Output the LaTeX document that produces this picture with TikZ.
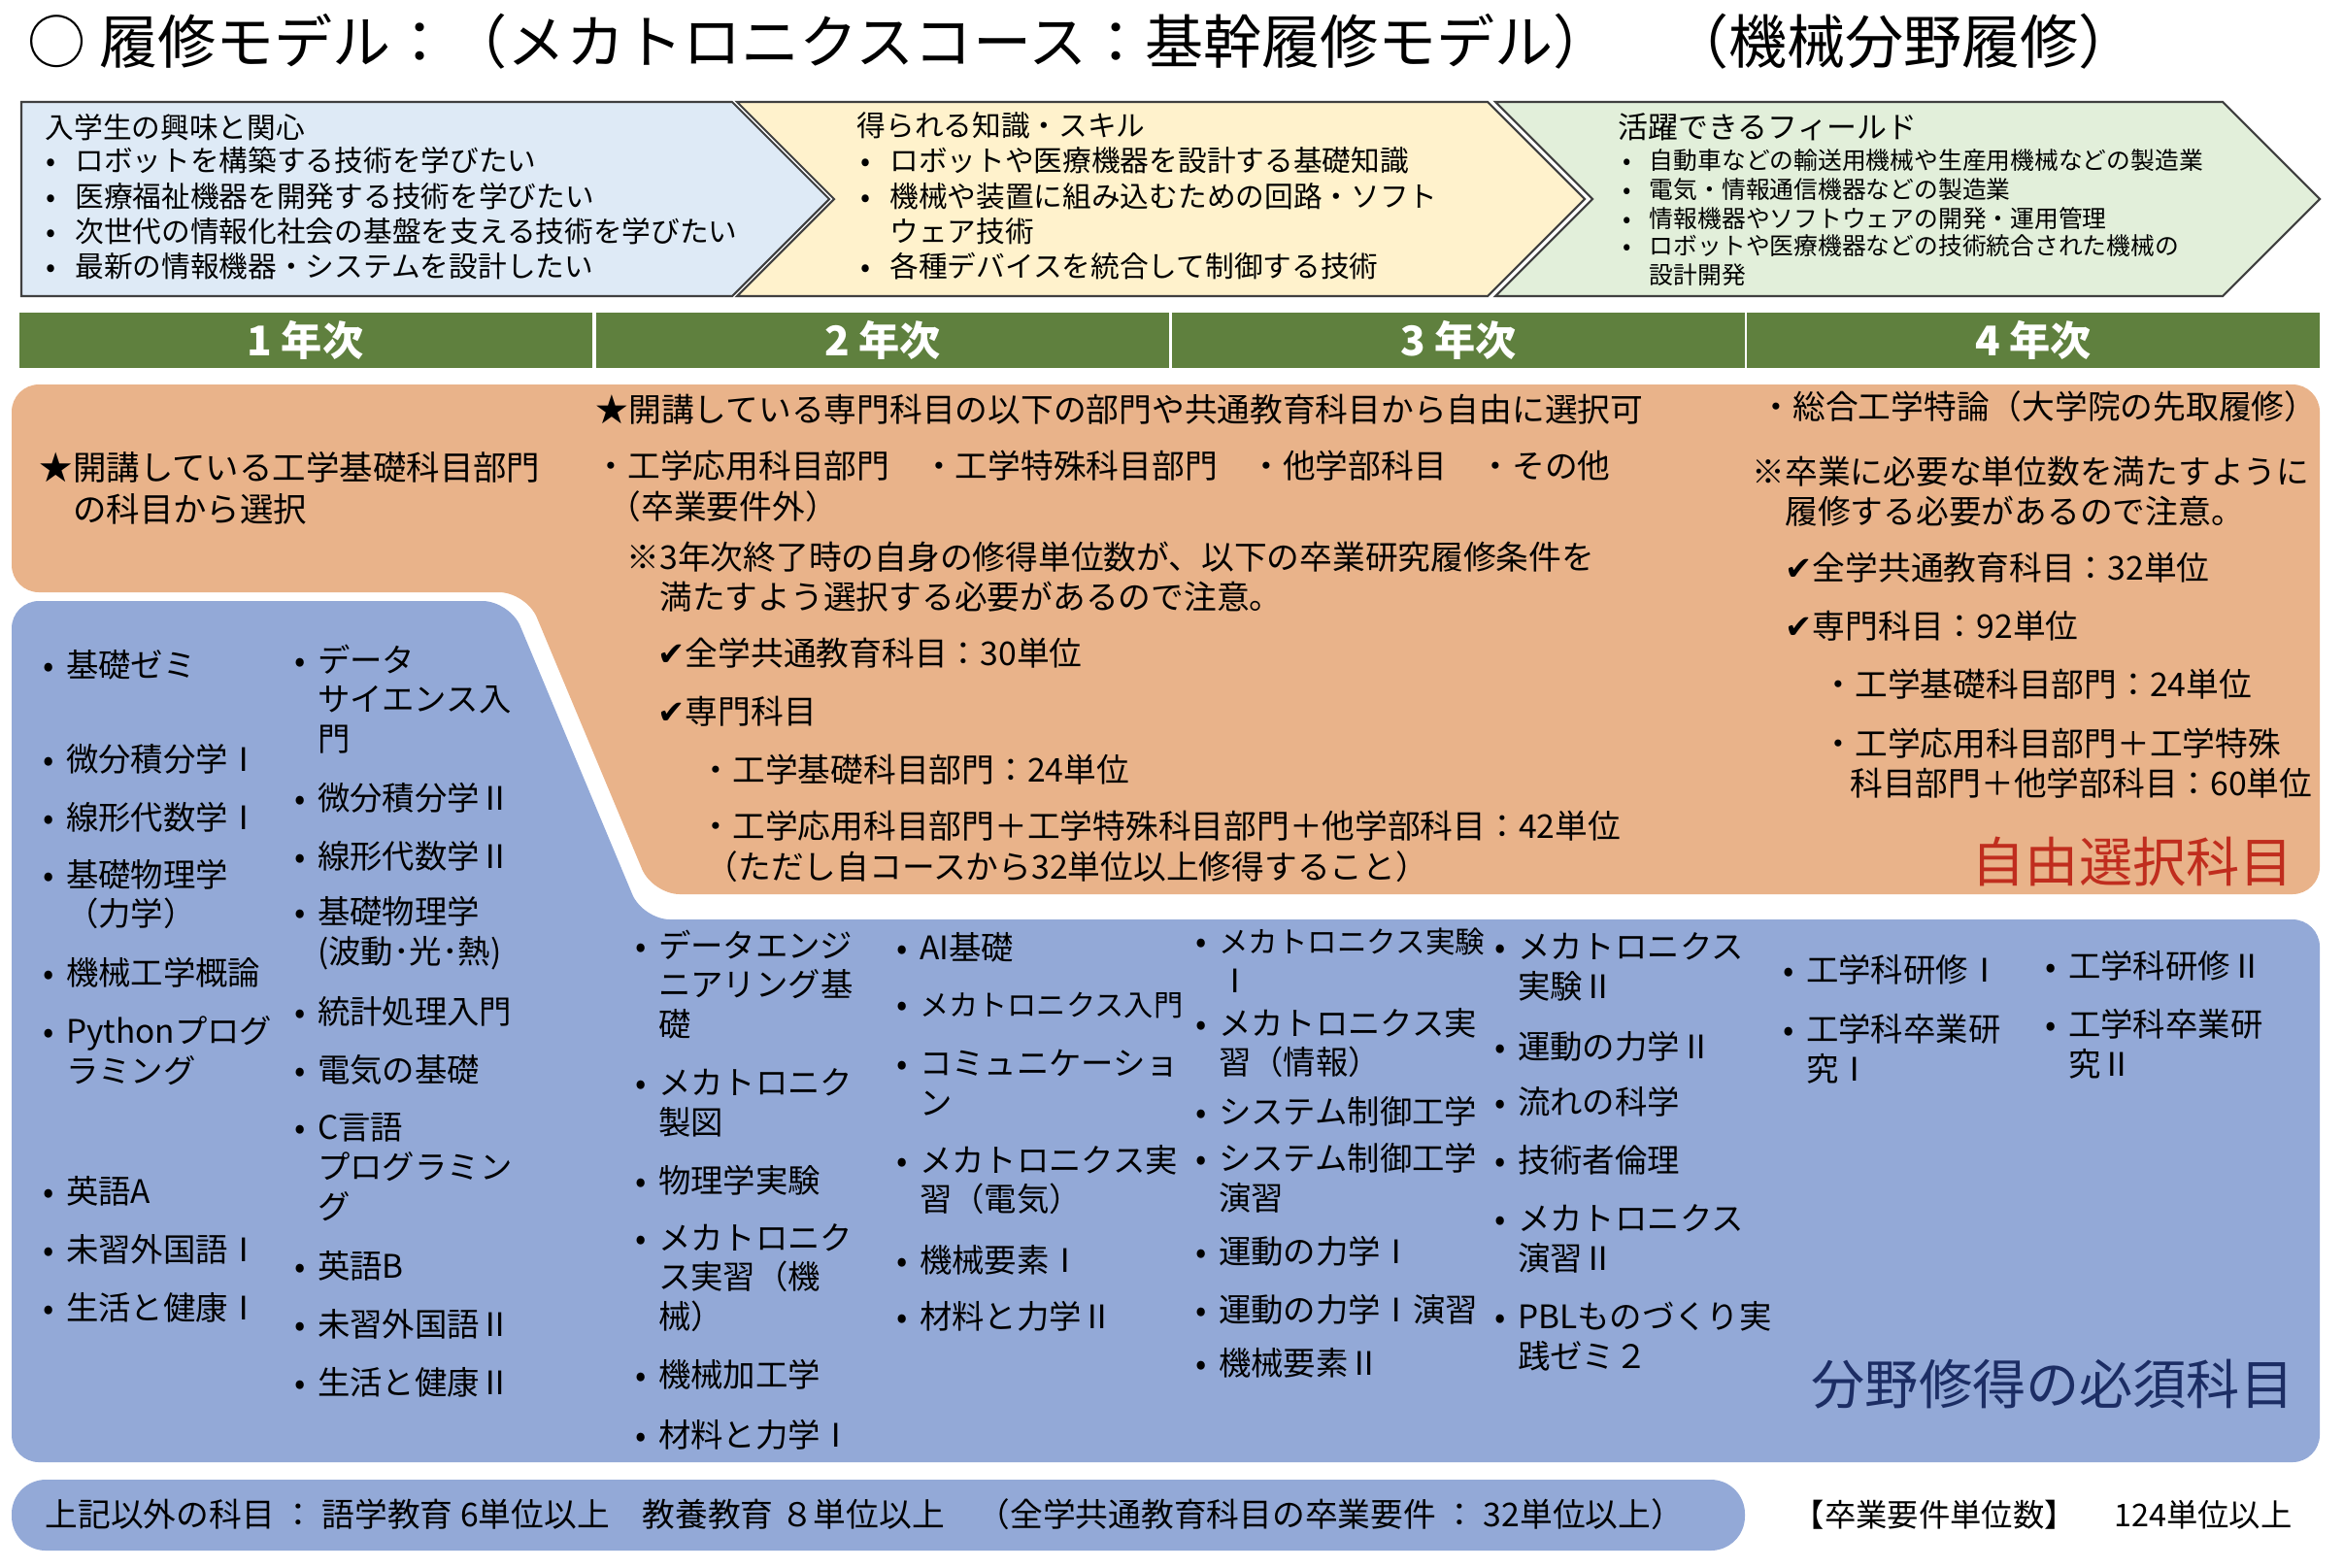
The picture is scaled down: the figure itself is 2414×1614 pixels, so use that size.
\documentclass[tikz,border=0pt]{standalone}
\usepackage{fontspec}
\setmainfont{Noto Sans CJK JP}
\newfontfamily\symfont{DejaVu Sans}

\definecolor{chevblue}{RGB}{222,234,246}
\definecolor{chevyellow}{RGB}{255,242,204}
\definecolor{chevgreen}{RGB}{226,239,218}
\definecolor{yeargreen}{RGB}{95,128,62}
\definecolor{freeorange}{RGB}{233,179,138}
\definecolor{reqblue}{RGB}{147,169,215}
\definecolor{freered}{RGB}{192,45,30}
\definecolor{reqnavy}{RGB}{28,45,100}

\newcommand\subjdot[1][0.7em]{\makebox[#1][l]{•}}
\newcommand\subjind[1][0.7em]{\hspace*{#1}}
\newcommand\chk{{\symfont ✔}}

\begin{document}
\begin{tikzpicture}[
  x=0.1mm, y=-0.1mm,
  chevron/.style={draw=black!75, line width=0.6pt},
  ttl/.style={anchor=west, inner sep=0, font=\fontsize{17.1}{20}\selectfont},
  chevtxt/.style={anchor=west, inner sep=0, align=left, font=\fontsize{8.45}{10.3}\selectfont},
  fieldtxt/.style={anchor=west, inner sep=0, align=left, font=\fontsize{7.05}{8.45}\selectfont},
  yearcell/.style={fill=yeargreen, text=white, inner sep=0, minimum width=59mm,
    minimum height=5.7mm, font=\fontsize{12}{14}\selectfont\bfseries},
  notetxt/.style={anchor=west, inner sep=0, align=left, font=\fontsize{9.6}{11.8}\selectfont},
  subj/.style={anchor=west, inner sep=0, align=left, font=\fontsize{9.5}{11.6}\selectfont},
  bigtag/.style={anchor=west, inner sep=0, font=\fontsize{15.7}{18}\selectfont},
]
\useasboundingbox (0,0) rectangle (2414,1614);

% --- title ---
\node[ttl] (title) at (28,43) {○ 履修モデル：（メカトロニクスコース：基幹履修モデル）　（機械分野履修）};

% --- chevrons ---
\draw[chevron, fill=chevblue] (22,105) -- (754,105) -- (854,205) -- (754,305) -- (22,305) -- cycle;
\draw[chevron, fill=chevyellow] (759,105) -- (1532,105) -- (1632,205) -- (1532,305) -- (759,305) -- (859,205) -- cycle;
\draw[chevron, fill=chevgreen] (1540,105) -- (2289,105) -- (2389,205) -- (2289,305) -- (1540,305) -- (1640,205) -- cycle;

\node[chevtxt] (inthead) at (46,131) {入学生の興味と関心};
\node[chevtxt] (int1) at (47,165) {\subjdot[1em]ロボットを構築する技術を学びたい};
\node[chevtxt] (int2) at (47,202) {\subjdot[1em]医療福祉機器を開発する技術を学びたい};
\node[chevtxt] (int3) at (47,238) {\subjdot[1em]次世代の情報化社会の基盤を支える技術を学びたい};
\node[chevtxt] (int4) at (47,274) {\subjdot[1em]最新の情報機器・システムを設計したい};

\node[chevtxt] (skillhead) at (882,129) {得られる知識・スキル};
\node[chevtxt] (skill1) at (886,165) {\subjdot[1em]ロボットや医療機器を設計する基礎知識};
\node[chevtxt] (skill2) at (886,220) {\subjdot[1em]機械や装置に組み込むための回路・ソフト\\\subjind[1em]ウェア技術};
\node[chevtxt] (skill3) at (886,274) {\subjdot[1em]各種デバイスを統合して制御する技術};

\node[chevtxt, font=\fontsize{8.8}{10.5}\selectfont] (fieldhead) at (1666,131) {活躍できるフィールド};
\node[fieldtxt] (field1) at (1671,165) {\subjdot[1.1em]自動車などの輸送用機械や生産用機械などの製造業};
\node[fieldtxt] (field2) at (1671,195) {\subjdot[1.1em]電気・情報通信機器などの製造業};
\node[fieldtxt] (field3) at (1671,225) {\subjdot[1.1em]情報機器やソフトウェアの開発・運用管理};
\node[fieldtxt] (field4) at (1671,268) {\subjdot[1.1em]ロボットや医療機器などの技術統合された機械の\\\subjind[1.1em]設計開発};

% --- year header ---
\node[yearcell] (yr1) at (314.5,350) {1 年次};
\node[yearcell] (yr2) at (909,350) {2 年次};
\node[yearcell] (yr3) at (1502,350) {3 年次};
\node[yearcell] (yr4) at (2094,350) {4 年次};

% --- free choice area (orange) ---
\fill[freeorange, rounded corners=8pt] (12,396) -- (2389,396) -- (2389,921) -- (672,921)
  -- (542,610) -- (12,610) -- cycle;

\node[notetxt, font=\fontsize{9.8}{12.2}\selectfont] (free1) at (40,503)
  {★開講している工学基礎科目部門\\\hspace*{1em}の科目から選択};
\node[notetxt] (free2) at (613,422) {★開講している専門科目の以下の部門や共通教育科目から自由に選択可};
\node[notetxt] (dept) at (612,480) {・工学応用科目部門　・工学特殊科目部門　・他学部科目　・その他};
\node[notetxt] (outside) at (626,522) {（卒業要件外）};
\node[notetxt] (cond3) at (645,594)
  {※3年次終了時の自身の修得単位数が、以下の卒業研究履修条件を\\\hspace*{1em}満たすよう選択する必要があるので注意。};
\node[notetxt] (chk30) at (677,673) {\chk 全学共通教育科目：30単位};
\node[notetxt] (chksen) at (677,733) {\chk 専門科目};
\node[notetxt] (kiso24) at (720,793) {・工学基礎科目部門：24単位};
\node[notetxt] (app42) at (720,851) {・工学応用科目部門＋工学特殊科目部門＋他学部科目：42単位};
\node[notetxt] (tadashi) at (726,893) {（ただし自コースから32単位以上修得すること）};

\node[notetxt] (sogo) at (1812,419) {・総合工学特論（大学院の先取履修）};
\node[notetxt] (cond4) at (1804,506)
  {※卒業に必要な単位数を満たすように\\\hspace*{1em}履修する必要があるので注意。};
\node[notetxt] (chk32) at (1838,585) {\chk 全学共通教育科目：32単位};
\node[notetxt] (chk92) at (1838,645) {\chk 専門科目：92単位};
\node[notetxt] (kiso24b) at (1876,705) {・工学基礎科目部門：24単位};
\node[notetxt] (app60) at (1876,786)
  {・工学応用科目部門＋工学特殊\\\hspace*{0.85em}科目部門＋他学部科目：60単位};

\node[bigtag, text=freered] (freetag) at (2030,888) {自由選択科目};

% --- required subjects (blue) ---
\fill[reqblue, rounded corners=8pt] (12,619) -- (525,619) -- (662,947) -- (2389,947)
  -- (2389,1506) -- (12,1506) -- cycle;

% 1st year
\node[subj] (s1a) at (44,685) {\subjdot 基礎ゼミ};
\node[subj] (s1b) at (44,782) {\subjdot 微分積分学Ⅰ};
\node[subj] (s1c) at (44,842) {\subjdot 線形代数学Ⅰ};
\node[subj] (s1d) at (44,921) {\subjdot 基礎物理学\\\subjind（力学）};
\node[subj] (s1e) at (44,1002) {\subjdot 機械工学概論};
\node[subj] (s1f) at (44,1082) {\subjdot Pythonプログ\\\subjind ラミング};
\node[subj] (s1g) at (44,1227) {\subjdot 英語A};
\node[subj] (s1h) at (44,1287) {\subjdot 未習外国語Ⅰ};
\node[subj] (s1i) at (44,1347) {\subjdot 生活と健康Ⅰ};

\node[subj] (s1j) at (303,720) {\subjdot データ\\\subjind サイエンス入\\\subjind 門};
\node[subj] (s1k) at (303,822) {\subjdot 微分積分学Ⅱ};
\node[subj] (s1l) at (303,882) {\subjdot 線形代数学Ⅱ};
\node[subj] (s1m) at (303,961) {\subjdot 基礎物理学\\\subjind(波動･光･熱)};
\node[subj] (s1n) at (303,1042) {\subjdot 統計処理入門};
\node[subj] (s1o) at (303,1102) {\subjdot 電気の基礎};
\node[subj] (s1p) at (303,1202) {\subjdot C言語\\\subjind プログラミン\\\subjind グ};
\node[subj] (s1q) at (303,1304) {\subjdot 英語B};
\node[subj] (s1r) at (303,1364) {\subjdot 未習外国語Ⅱ};
\node[subj] (s1s) at (303,1424) {\subjdot 生活と健康Ⅱ};

% 2nd year
\node[subj] (s2a) at (654,1014) {\subjdot データエンジ\\\subjind ニアリング基\\\subjind 礎};
\node[subj] (s2b) at (654,1136) {\subjdot メカトロニク\\\subjind 製図};
\node[subj] (s2c) at (654,1216) {\subjdot 物理学実験};
\node[subj] (s2d) at (654,1316) {\subjdot メカトロニク\\\subjind ス実習（機\\\subjind 械）};
\node[subj] (s2e) at (654,1416) {\subjdot 機械加工学};
\node[subj] (s2f) at (654,1478) {\subjdot 材料と力学Ⅰ};

\node[subj] (s2g) at (923,976) {\subjdot AI基礎};
\node[subj] (s2h) at (923,1035) {\subjdot {\fontsize{8.6}{10}\selectfont メカトロニクス入門}};
\node[subj] (s2i) at (923,1115) {\subjdot コミュニケーショ\\\subjind ン};
\node[subj] (s2j) at (923,1215) {\subjdot メカトロニクス実\\\subjind 習（電気）};
\node[subj] (s2k) at (923,1298) {\subjdot 機械要素Ⅰ};
\node[subj] (s2l) at (923,1356) {\subjdot 材料と力学Ⅱ};

% 3rd year
\node[subj] (s3a) at (1231,989) {\subjdot {\fontsize{8.7}{10}\selectfont メカトロニクス実験}\\\subjind Ⅰ};
\node[subj] (s3b) at (1231,1074) {\subjdot メカトロニクス実\\\subjind 習（情報）};
\node[subj] (s3c) at (1231,1145) {\subjdot システム制御工学};
\node[subj] (s3d) at (1231,1213) {\subjdot システム制御工学\\\subjind 演習};
\node[subj] (s3e) at (1231,1289) {\subjdot 運動の力学Ⅰ};
\node[subj] (s3f) at (1231,1349) {\subjdot 運動の力学Ⅰ演習};
\node[subj] (s3g) at (1231,1404) {\subjdot 機械要素Ⅱ};

\node[subj] (s3h) at (1539,996) {\subjdot メカトロニクス\\\subjind 実験Ⅱ};
\node[subj] (s3i) at (1539,1078) {\subjdot 運動の力学Ⅱ};
\node[subj] (s3j) at (1539,1135) {\subjdot 流れの科学};
\node[subj] (s3k) at (1539,1195) {\subjdot 技術者倫理};
\node[subj] (s3l) at (1539,1276) {\subjdot メカトロニクス\\\subjind 演習Ⅱ};
\node[subj] (s3m) at (1539,1376) {\subjdot PBLものづくり実\\\subjind 践ゼミ２};

% 4th year
\node[subj] (s4a) at (1836,999) {\subjdot 工学科研修Ⅰ};
\node[subj] (s4b) at (1836,1080) {\subjdot 工学科卒業研\\\subjind 究Ⅰ};
\node[subj] (s4c) at (2106,995) {\subjdot 工学科研修Ⅱ};
\node[subj] (s4d) at (2106,1075) {\subjdot 工学科卒業研\\\subjind 究Ⅱ};

\node[bigtag, text=reqnavy] (reqtag) at (1865,1426) {分野修得の必須科目};

% --- other subjects / total ---
\fill[reqblue, rounded corners=10pt] (12,1524) rectangle (1797,1597);
\node[notetxt] (others) at (46,1560)
  {上記以外の科目 ： 語学教育 6単位以上　教養教育 ８単位以上　（全学共通教育科目の卒業要件 ： 32単位以上）};
\node[notetxt, font=\fontsize{9.2}{11}\selectfont] (total) at (1846,1560) {【卒業要件単位数】　 124単位以上};

\end{tikzpicture}
\end{document}
